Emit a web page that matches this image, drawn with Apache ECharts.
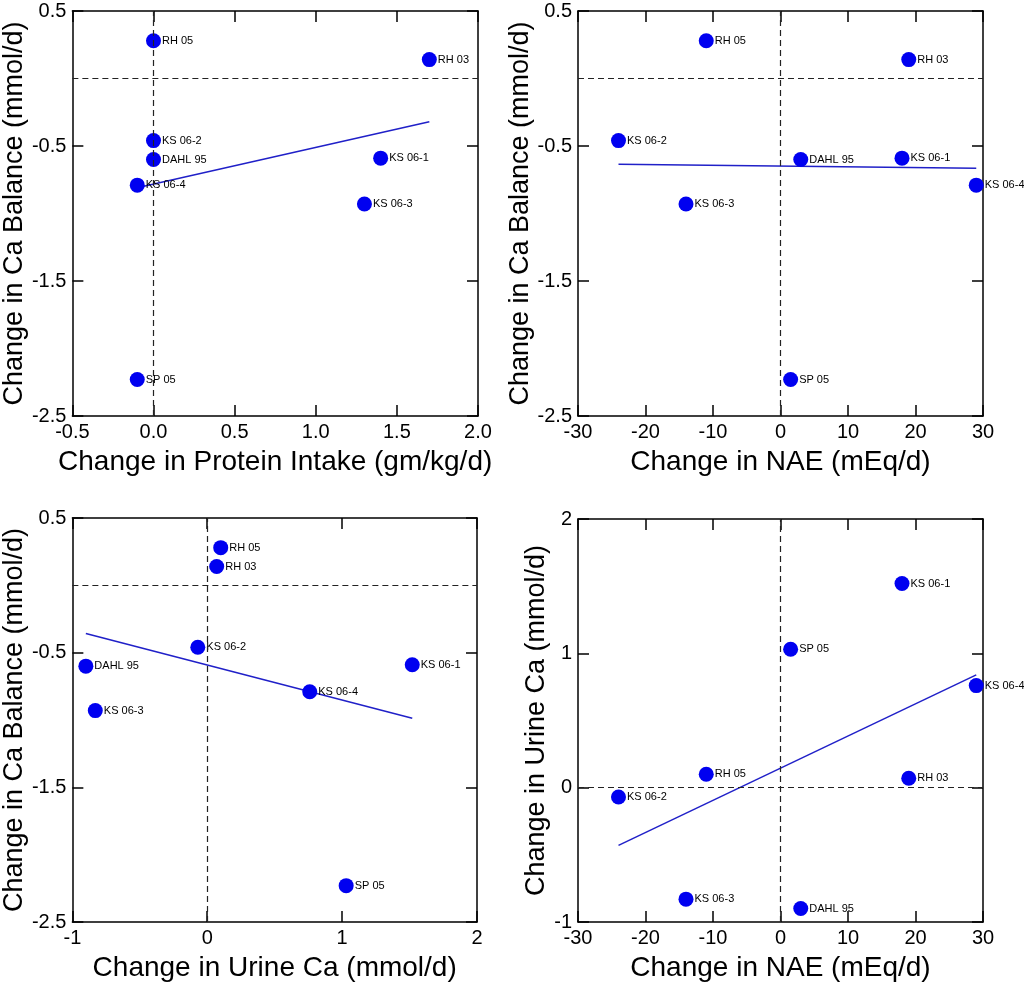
<!DOCTYPE html>
<html>
<head>
<meta charset="utf-8">
<script src="https://cdn.jsdelivr.net/npm/echarts@6/dist/echarts.min.js"></script>
<style>
html,body{margin:0;padding:0;background:#fff;}
#c{width:1024px;height:983px;}
</style>
</head>
<body>
<div id="c"></div>
<script>
// Studies and their values
const studies     = ['RH 05', 'RH 03', 'KS 06-2', 'DAHL 95', 'KS 06-1', 'KS 06-4', 'KS 06-3', 'SP 05'];
const proteinChg  = [0.0, 1.7, 0.0, 0.0, 1.4, -0.1, 1.3, -0.1];
const naeChg      = [-11, 19, -24, 3, 18, 29, -14, 1.5];
const urineCaChg  = [0.10, 0.07, -0.07, -0.90, 1.52, 0.76, -0.83, 1.03];
const caBalChg    = [0.28, 0.14, -0.46, -0.60, -0.59, -0.79, -0.93, -2.23];

// Fit line endpoints
const fit1X = [-0.1, 1.7];   const fit1Y = [-0.81, -0.32];
const fit2X = [-24, 29];     const fit2Y = [-0.636, -0.665];
const fit3X = [-0.90, 1.52]; const fit3Y = [-0.357, -0.987];
const fit4X = [-24, 29];     const fit4Y = [-0.43, 0.84];

// Axis settings
const xTitles = ['Change in Protein Intake (gm/kg/d)', 'Change in NAE (mEq/d)', 'Change in Urine Ca (mmol/d)', 'Change in NAE (mEq/d)'];
const yTitles = ['Change in Ca Balance (mmol/d)', 'Change in Ca Balance (mmol/d)', 'Change in Ca Balance (mmol/d)', 'Change in Urine Ca (mmol/d)'];
const xRanges = [[-0.5, 2.0, 0.5], [-30, 30, 10], [-1, 2, 1], [-30, 30, 10]];
const yRanges = [[-2.5, 0.5, 1], [-2.5, 0.5, 1], [-2.5, 0.5, 1], [-1, 2, 1]];
const xDecimals = [1, 0, 0, 0];
const yDecimals = [1, 1, 1, 0];
const yNameGaps = [42, 41, 40, 22];

const xs = [proteinChg, naeChg, urineCaChg, naeChg];
const ys = [caBalChg, caBalChg, caBalChg, urineCaChg];
const fits = [[fit1X, fit1Y], [fit2X, fit2Y], [fit3X, fit3Y], [fit4X, fit4Y]];

const grids = [
  {left: 72, top: 11, width: 406, height: 405},
  {left: 578, top: 11, width: 405, height: 405},
  {left: 72, top: 518, width: 405, height: 405},
  {left: 578, top: 519, width: 405, height: 404}
];

const FONT = 'Liberation Sans, Arial, sans-serif';
const xAxis = [], yAxis = [], series = [];

for (let i = 0; i < 4; i++) {
  const [xmin, xmax, xint] = xRanges[i];
  const [ymin, ymax, yint] = yRanges[i];
  const baseX = {
    type: 'value', gridIndex: i, min: xmin, max: xmax, interval: xint,
    splitLine: {show: false},
    axisLine: {show: true, onZero: false, lineStyle: {color: '#000', width: 1.5}},
    axisTick: {show: true, inside: true, length: 11, lineStyle: {color: '#000', width: 1.5}}
  };
  xAxis.push(Object.assign({}, baseX, {
    position: 'bottom',
    name: xTitles[i], nameLocation: 'middle', nameGap: 32,
    nameTextStyle: {fontFamily: FONT, fontSize: 28, color: '#000'},
    axisLabel: {show: true, margin: 6, fontFamily: FONT, fontSize: 20, color: '#000',
      formatter: v => Number(v).toFixed(xDecimals[i])}
  }));
  xAxis.push(Object.assign({}, baseX, {position: 'top', axisLabel: {show: false}}));

  const baseY = {
    type: 'value', gridIndex: i, min: ymin, max: ymax, interval: yint,
    splitLine: {show: false},
    axisLine: {show: true, onZero: false, lineStyle: {color: '#000', width: 1.5}},
    axisTick: {show: true, inside: true, length: 11, lineStyle: {color: '#000', width: 1.5}}
  };
  yAxis.push(Object.assign({}, baseY, {
    position: 'left',
    name: yTitles[i], nameLocation: 'middle', nameGap: yNameGaps[i], nameRotate: 90,
    nameTextStyle: {fontFamily: FONT, fontSize: 27, color: '#000'},
    axisLabel: {show: true, margin: 6, fontFamily: FONT, fontSize: 20, color: '#000',
      formatter: v => Number(v).toFixed(yDecimals[i])}
  }));
  yAxis.push(Object.assign({}, baseY, {position: 'right', axisLabel: {show: false}}));

  // dashed reference lines at zero
  series.push({
    type: 'line', xAxisIndex: 2 * i, yAxisIndex: 2 * i, data: [], silent: true,
    markLine: {
      silent: true, symbol: 'none', animation: false,
      label: {show: false},
      lineStyle: {color: '#222', type: [6, 4], width: 1.2},
      data: [{xAxis: 0}, {yAxis: 0}]
    }
  });

  // fit line
  const [fx, fy] = fits[i];
  series.push({
    type: 'line', xAxisIndex: 2 * i, yAxisIndex: 2 * i,
    data: fx.map((x, k) => [x, fy[k]]),
    showSymbol: false, symbol: 'none', animation: false,
    lineStyle: {color: '#2020c8', width: 1.5}, z: 3
  });

  // scatter points
  series.push({
    type: 'scatter', xAxisIndex: 2 * i, yAxisIndex: 2 * i,
    data: xs[i].map((x, k) => ({value: [x, ys[i][k]], name: studies[k]})),
    symbolSize: 15, animation: false,
    itemStyle: {color: '#0000f0', opacity: 1},
    label: {show: true, position: 'right', distance: 1, formatter: p => p.name,
      fontFamily: FONT, fontSize: 11, color: '#000'},
    z: 4
  });
}

const chart = echarts.init(document.getElementById('c'), null, {renderer: 'canvas'});
chart.setOption({
  animation: false,
  backgroundColor: '#fff',
  grid: grids,
  xAxis: xAxis,
  yAxis: yAxis,
  series: series
});
</script>
</body>
</html>
